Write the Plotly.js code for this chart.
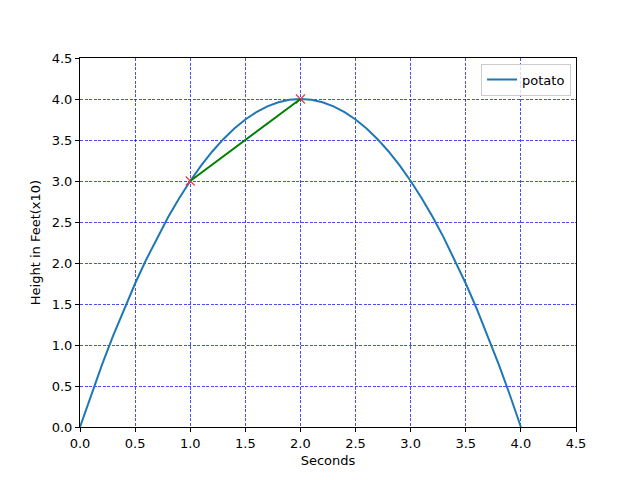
<!DOCTYPE html>
<html><head><meta charset="utf-8">
<script src="https://cdn.plot.ly/plotly-3.0.1.min.js"></script>
<style>html,body{margin:0;padding:0;background:#fff}#c{width:640px;height:480px}</style>
</head><body><div id="c"></div>
<script>
var seconds = [0,0.1,0.2,0.3,0.4,0.5,0.6,0.7,0.8,0.9,1.0,1.1,1.2,1.3,1.4,1.5,1.6,1.7,1.8,1.9,2.0,2.1,2.2,2.3,2.4,2.5,2.6,2.7,2.8,2.9,3.0,3.1,3.2,3.3,3.4,3.5,3.6,3.7,3.8,3.9,4.0];
var potato = [0,0.39,0.76,1.11,1.44,1.75,2.04,2.31,2.56,2.79,3.0,3.19,3.36,3.51,3.64,3.75,3.84,3.91,3.96,3.99,4.0,3.99,3.96,3.91,3.84,3.75,3.64,3.51,3.36,3.19,3.0,2.79,2.56,2.31,2.04,1.75,1.44,1.11,0.76,0.39,0];
var chordX = [1, 2];
var chordY = [3, 4];
var ticks = [0,0.5,1,1.5,2,2.5,3,3.5,4,4.5];
var tickText = ['0.0','0.5','1.0','1.5','2.0','2.5','3.0','3.5','4.0','4.5'];

var traces = [
  {x: seconds, y: potato, mode: 'lines', name: 'potato', line: {color: '#1f77b4', width: 2}},
  {x: chordX, y: chordY, mode: 'markers', showlegend: false, marker: {symbol: 'x-thin', size: 9, line: {color: '#ff3333', width: 1.2}, color: '#ff3333'}},
  {x: chordX, y: chordY, mode: 'lines', showlegend: false, line: {color: 'green', width: 2}}
];
var axisCommon = {
  range: [0, 4.5], tickvals: ticks, ticktext: tickText, ticks: 'outside', ticklen: 4, tickcolor: '#000',
  showline: true, linecolor: '#000', linewidth: 1, mirror: true,
  showgrid: true, gridcolor: 'rgba(0,0,255,0.7)', griddash: '3px,1.5px', gridwidth: 1,
  zeroline: false, tickfont: {size: 13, color: '#000'}
};
var layout = {
  width: 640, height: 480,
  margin: {l: 80, r: 64, t: 58, b: 53},
  paper_bgcolor: '#fff', plot_bgcolor: '#fff',
  font: {family: 'DejaVu Sans', color: '#000'},
  xaxis: Object.assign({}, axisCommon, {title: {text: 'Seconds', font: {size: 13}, standoff: 6}}),
  yaxis: Object.assign({}, axisCommon, {title: {text: 'Height in Feet(x10)', font: {size: 13}, standoff: 8}}),
  showlegend: true,
  legend: {x: 0.99, y: 0.985, xanchor: 'right', yanchor: 'top', bordercolor: '#ccc', borderwidth: 1, bgcolor: 'rgba(255,255,255,0.8)', font: {size: 13}}
};
Plotly.newPlot('c', traces, layout, {displayModeBar: false});
</script></body></html>
